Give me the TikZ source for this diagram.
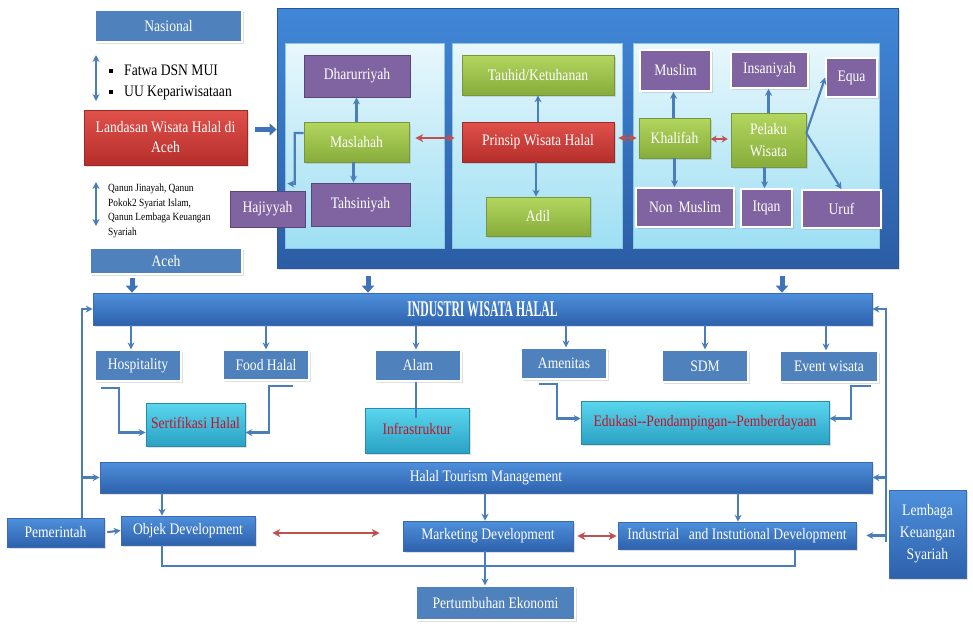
\documentclass[tikz,border=0pt]{standalone}
\usepackage{fontspec}
\setmainfont{Liberation Serif}[FakeStretch=0.85]
\newfontfamily\condfont{Liberation Serif}[FakeStretch=0.52]
\usetikzlibrary{arrows.meta,shadows,calc}
\definecolor{boxblue}{HTML}{4F81BD}
\definecolor{connblue}{HTML}{4A7EBB}
\definecolor{fatblue}{HTML}{3F73B8}
\definecolor{barTop}{HTML}{4E90DC}
\definecolor{barBot}{HTML}{2E61AC}
\definecolor{barEdge}{HTML}{3A6BB0}
\definecolor{redTop}{HTML}{E0514B}
\definecolor{redBot}{HTML}{B52E2B}
\definecolor{redEdge}{HTML}{9E2A27}
\definecolor{greenTop}{HTML}{B2D65E}
\definecolor{greenBot}{HTML}{87AC3B}
\definecolor{greenEdge}{HTML}{76973A}
\definecolor{purp}{HTML}{8064A2}
\definecolor{purpEdge}{HTML}{5C4578}
\definecolor{cyanTop}{HTML}{5AD6EE}
\definecolor{cyanBot}{HTML}{2AA2C4}
\definecolor{cyanEdge}{HTML}{2B8CAA}
\definecolor{textred}{HTML}{C0142A}
\definecolor{arrowred}{HTML}{C0504D}
\definecolor{panelTop}{HTML}{E8F7FC}
\definecolor{panelBot}{HTML}{9EDFF3}
\definecolor{panelEdge}{HTML}{8CC8E0}
\definecolor{contTop}{HTML}{4187D8}
\definecolor{contBot}{HTML}{2C5DA6}
\definecolor{contEdge}{HTML}{2A5798}
\begin{document}
\begin{tikzpicture}[x=1pt,y=-1pt,
  wh/.style 2 args={minimum width=#1pt, minimum height=#2pt},
  base/.style={inner sep=0pt, align=center, text=white, font=\fontsize{16}{19}\selectfont},
  softshadow/.style={drop shadow={opacity=0.25,shadow xshift=1.5pt,shadow yshift=-1.5pt}},
  flatblue/.style={base, fill=boxblue, draw=white, line width=1.2pt, softshadow},
  bar/.style={base, top color=barTop, bottom color=barBot, draw=barEdge, line width=0.6pt, softshadow},
  redbox/.style={base, top color=redTop, bottom color=redBot, draw=redEdge, line width=0.6pt, softshadow},
  greenbox/.style={base, top color=greenTop, bottom color=greenBot, draw=greenEdge, line width=0.6pt, softshadow},
  purpA/.style={base, fill=purp, draw=purpEdge, line width=0.8pt},
  purpB/.style={base, fill=purp, draw=white, line width=1.6pt, softshadow},
  cyanbox/.style={base, top color=cyanTop, bottom color=cyanBot, draw=cyanEdge, line width=0.6pt, text=textred, softshadow},
  panel/.style={top color=panelTop, bottom color=panelBot, draw=panelEdge, line width=0.5pt, inner sep=0pt},
  container/.style={top color=contTop, bottom color=contBot, draw=contEdge, line width=0.8pt, inner sep=0pt, softshadow},
  conn/.style={draw=connblue, line width=2.1pt},
  arr/.style={conn, -{Stealth[length=7pt,width=7pt]}},
  dbl/.style={conn, {Stealth[length=7pt,width=7pt]}-{Stealth[length=7pt,width=7pt]}},
  redarr/.style={draw=arrowred, line width=2pt, {Stealth[length=8pt,width=8pt]}-{Stealth[length=8pt,width=8pt]}},
  redsmall/.style={draw=arrowred, line width=2pt, {Stealth[length=6pt,width=7pt]}-{Stealth[length=6pt,width=7pt]}},
  fat/.style={draw=fatblue, line width=5pt, -{Triangle[length=7pt,width=12pt]}},
  plain/.style={inner sep=0pt, text=black, font=\fontsize{16}{19}\selectfont}
]
\useasboundingbox (0,0) rectangle (973,625);
\fill[white] (0,0) rectangle (973,625);

% ---------- left column ----------
\node[flatblue, wh={147}{32}] (nas) at (168.5,26) {Nasional};
\node[redbox, wh={163}{55}] (land) at (165.5,137.5) {Landasan Wisata Halal di\\[1pt]Aceh};
\node[flatblue, wh={152}{26}] (aceh) at (166,261) {Aceh};
\node[plain, anchor=west] (fatwa) at (109,70) {\raisebox{2.5pt}{\rule{4pt}{4pt}}\hspace{11pt}Fatwa DSN MUI};
\node[plain, anchor=west] (uu) at (109,93) {\raisebox{2.5pt}{\rule{4pt}{4pt}}\hspace{11pt}UU Kepariwisataan};
\node[plain, anchor=north west, align=left, font=\fontsize{11}{14.5}\selectfont] (qanun) at (108,184)
  {Qanun Jinayah, Qanun\\Pokok2 Syariat Islam,\\Qanun Lembaga Keuangan\\Syariah};
\coordinate (d1a) at (96,55);
\coordinate (d1b) at (96,101);
\coordinate (d2a) at (96,182);
\coordinate (d2b) at (96,226);
\draw[dbl] (d1a) -- (d1b);
\draw[dbl] (d2a) -- (d2b);

% ---------- top container ----------
\node[container, wh={621}{260}] (cont) at (587.5,138) {};
\node[panel, wh={159}{205}] (p1) at (364.5,145.5) {};
\node[panel, wh={170}{205}] (p2) at (537,145.5) {};
\node[panel, wh={246}{205}] (p3) at (756,145.5) {};

\node[purpA, wh={106}{42}] (dhar) at (357,76) {Dharurriyah};
\node[greenbox, wh={105}{40}] (masl) at (356.5,142) {Maslahah};
\node[purpA, wh={99}{43}] (tahs) at (360.5,204.5) {Tahsiniyah};
\node[purpA, wh={75}{36}] (haji) at (267.5,209) {Hajiyyah};

\node[greenbox, wh={152}{40}] (tauh) at (538,75) {Tauhid/Ketuhanan};
\node[redbox, wh={152}{40}] (prin) at (538,142) {Prinsip Wisata Halal};
\node[greenbox, wh={104}{39}] (adil) at (538,216.5) {Adil};

\node[purpB, wh={71}{41}] (musl) at (675.5,70.5) {Muslim};
\node[purpB, wh={77}{36}] (insa) at (769.5,70) {Insaniyah};
\node[purpB, wh={51}{39}] (equa) at (851.5,77.5) {Equa};
\node[greenbox, wh={71}{40}] (khal) at (674.5,138) {Khalifah};
\node[greenbox, wh={75}{54}] (pel) at (768.5,140) {Pelaku\\[3pt]Wisata};
\node[purpB, wh={98}{39}] (nonm) at (685,207.5) {Non\hspace{6pt}Muslim};
\node[purpB, wh={51}{38}] (itqa) at (766.5,208) {Itqan};
\node[purpB, wh={79}{38}] (uruf) at (841.5,209) {Uruf};

% panel connectors
\draw[arr] (masl.north) -- (masl.north |- dhar.south);
\draw[arr] ([xshift=-3pt]masl.south) -- ([xshift=-3pt]masl.south |- tahs.north);
\coordinate (h1) at ($(masl.west)+(0,-9)$);
\coordinate (h2) at ($(h1)+(-9,0)$);
\coordinate (h3) at ($(h2)+(0,51)$);
\coordinate (h4) at ($(haji.north east)+(-18,-7)$);
\draw[arr] (h1) -- (h2) -- (h3) -- (h4);
\draw[arr] (prin.north) -- (tauh.south);
\draw[arr] ([xshift=-2pt]prin.south) -- ([xshift=-2pt]prin.south |- adil.north);
\draw[arr] ([xshift=-1pt]khal.north) -- ([xshift=-1pt]khal.north |- musl.south);
\draw[arr] (khal.south) -- (khal.south |- nonm.north);
\draw[arr] (pel.north) -- (pel.north |- insa.south);
\draw[arr] ([xshift=-4pt]pel.south) -- ([xshift=-4pt]pel.south |- itqa.north);
\draw[arr] ([yshift=7pt]pel.east) -- (equa.west);
\draw[arr] ([yshift=7pt]pel.east) -- (uruf.north);
\draw[redarr, shorten <=6pt, shorten >=7pt] ([yshift=4pt]masl.east) -- ([yshift=4pt]masl.east -| prin.west);
\draw[redarr, shorten <=4pt, shorten >=2pt] ([yshift=4pt]prin.east) -- ([yshift=4pt]prin.east -| khal.west);
\draw[redsmall, shorten <=0.5pt, shorten >=3pt] ([yshift=-1pt]khal.east) -- ([yshift=-1pt]khal.east -| pel.west);

% ---------- industri bar ----------
\node[bar, wh={779}{32}] (ind) at (482.5,309) {\condfont\bfseries\fontsize{22.5}{24}\selectfont INDUSTRI WISATA HALAL};
\draw[fat, shorten <=8pt] ([yshift=8pt]land.east) -- ([yshift=8pt]land.east -| cont.west);
\draw[fat, shorten <=3pt] ([xshift=-34pt]aceh.south) -- ([xshift=-34pt]aceh.south |- ind.north);
\draw[fat, shorten <=8pt] ([xshift=-219.5pt]cont.south) -- ([xshift=-219.5pt]cont.south |- ind.north);
\draw[fat, shorten <=8pt] ([xshift=194.5pt]cont.south) -- ([xshift=194.5pt]cont.south |- ind.north);

\node[flatblue, wh={86}{31}] (hosp) at (138,365.5) {Hospitality};
\node[flatblue, wh={86}{30}] (food) at (266,365) {Food Halal};
\node[flatblue, wh={86}{31}] (alam) at (418,365.5) {Alam};
\node[flatblue, wh={86}{31}] (amen) at (564,363.5) {Amenitas};
\node[flatblue, wh={86}{32}] (sdm) at (705,366) {SDM};
\node[flatblue, wh={98}{31}] (event) at (829,366.5) {Event wisata};

\draw[arr] ([xshift=-7pt]hosp.north |- ind.south) -- ([xshift=-7pt]hosp.north);
\draw[arr] (food.north |- ind.south) -- (food.north);
\draw[arr] ([xshift=-2pt]alam.north |- ind.south) -- ([xshift=-2pt]alam.north);
\draw[arr] ([xshift=2pt]amen.north |- ind.south) -- ([xshift=2pt]amen.north);
\draw[arr] (sdm.north |- ind.south) -- (sdm.north);
\draw[arr] ([xshift=-3pt]event.north |- ind.south) -- ([xshift=-3pt]event.north);

\node[cyanbox, wh={99}{43}] (sert) at (195.5,424.5) {\raisebox{4pt}{Sertifikasi Halal}};
\node[cyanbox, wh={104}{45}] (infra) at (417,430.5) {\raisebox{4pt}{Infrastruktur}};
\node[cyanbox, wh={248}{43}] (edu) at (705,422.5) {\raisebox{4pt}{Edukasi{-}{-}Pendampingan{-}{-}Pemberdayaan}};

\coordinate (s1) at ($(hosp.south west)+(7,6)$);
\draw[arr] (s1) -- ++(18,0) |- ([yshift=-8pt]sert.west);
\coordinate (s2) at ($(food.south east)+(-17,5)$);
\draw[arr] (s2) -- ++(-24,0) |- ([yshift=-8pt]sert.east);
\draw[conn] ([xshift=-2pt]alam.south) -- ($([xshift=-2pt]alam.south |- infra.north)+(0,10)$);
\coordinate (s3) at ($(amen.south west)+(19,4)$);
\draw[arr] (s3) -- ++(18,0) |- ([yshift=4pt]edu.west);
\coordinate (s4) at ($(event.south east)+(-8,3)$);
\draw[arr] (s4) -- ++(-20,0) |- ([yshift=4pt]edu.east);

% ---------- management ----------
\node[bar, wh={772}{31}] (htm) at (486,477.5) {Halal Tourism Management};
\node[bar, wh={97}{29}] (pem) at (55.5,532.5) {Pemerintah};
\node[bar, wh={134}{29}] (obj) at (188,530.5) {Objek Development};
\node[bar, wh={170}{30}] (mark) at (488,536) {Marketing Development};
\node[bar, wh={238}{27}] (indd) at (737,535.5) {Industrial\hspace{6pt} and Instutional Development};
\node[bar, wh={77}{88}] (lemb) at (927.5,534) {Lembaga\\[3pt]Keuangan\\[3pt]Syariah};
\node[flatblue, wh={159}{34}] (pert) at (495.5,603) {Pertumbuhan Ekonomi};

% Pemerintah feedback
\coordinate (pv) at ($(pem.north)+(26.5,0)$);
\draw[arr] (pv) |- (ind.west);
\draw[arr] (pv |- htm.west) -- (htm.west);
\draw[arr, shorten <=3pt] (pem.east) -- (obj.west);

% Lembaga feedback
\coordinate (lv) at ($(lemb.west)+(-3,8)$);
\draw[arr] (lv) |- (ind.east);
\draw[arr] (lv |- htm.east) -- (htm.east);
\draw[arr, shorten >=10pt] (lv |- indd.east) -- (indd.east);

% HTM to developments
\draw[arr] ([xshift=-26pt]obj.north |- htm.south) -- ([xshift=-26pt]obj.north);
\draw[arr] ([xshift=-3pt]mark.north |- htm.south) -- ([xshift=-3pt]mark.north);
\draw[arr] ([xshift=1pt]indd.north |- htm.south) -- ([xshift=1pt]indd.north);

\draw[redarr, shorten <=17pt, shorten >=23pt] ([yshift=-2.5pt]obj.east) -- ([yshift=-2.5pt]obj.east -| mark.west);
\draw[redarr, shorten <=4pt, shorten >=1pt] (mark.east) -- (mark.east -| indd.west);

\draw[conn] ([xshift=-26pt]obj.south) -- ++(0,21) -| ([xshift=58pt]indd.south);
\draw[arr] ([xshift=-3pt]mark.south) -- ([xshift=-3pt]mark.south |- pert.north);
\end{tikzpicture}
\end{document}
